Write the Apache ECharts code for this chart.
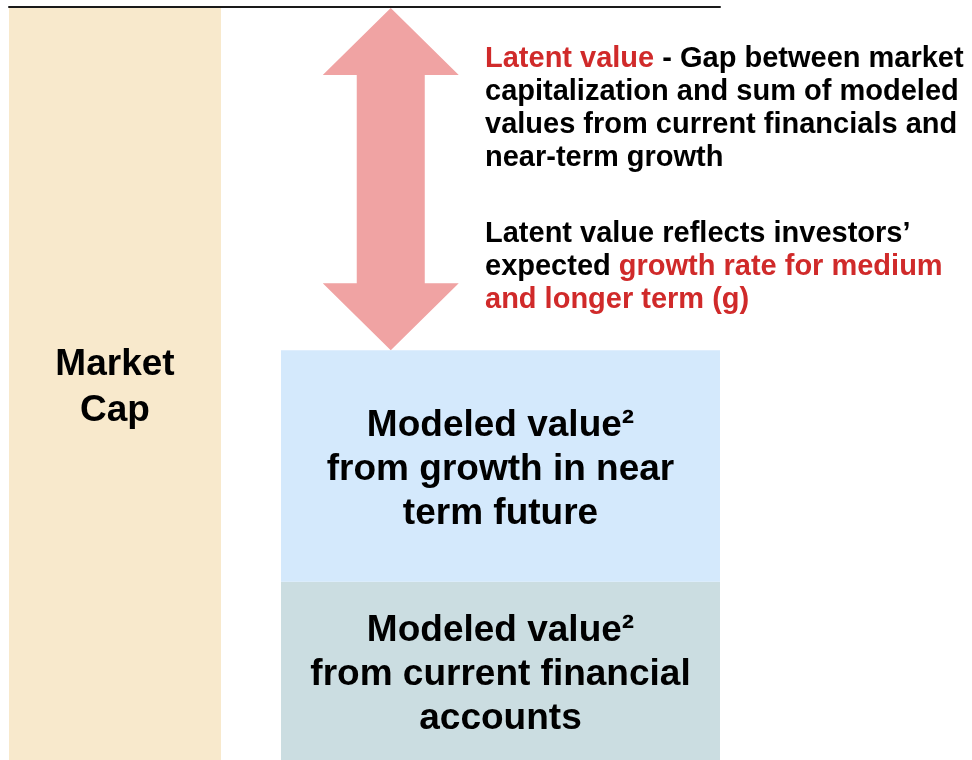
<!DOCTYPE html>
<html>
<head>
<meta charset="utf-8">
<script src="https://cdn.jsdelivr.net/npm/echarts@6/dist/echarts.min.js"></script>
<style>html,body{margin:0;padding:0;background:#fff}#c{width:972px;height:760px}</style>
</head>
<body>
<div id="c"></div>
<script>
// Data
var leftCategories = ['Market Cap'];
var rightCategories = ['Modeled'];
var marketCap = [100];
var currentFinancials = [23.7];
var nearTermGrowth = [30.8];
var leftLabel = 'Market\nCap';
var nearTermLabel = 'Modeled value²\nfrom growth in near\nterm future';
var currentLabel = 'Modeled value²\nfrom current financial\naccounts';

var modeledTop = currentFinancials[0] + nearTermGrowth[0];
var latentData = [[0, modeledTop, marketCap[0]]];

var chart = echarts.init(document.getElementById('c'));
var font = '"Liberation Sans", Arial, sans-serif';

function arrowItem(params, api) {
  var p1 = api.coord([api.value(0), api.value(1)]);
  var p2 = api.coord([api.value(0), api.value(2)]);
  var band = api.size([1, 0])[0];
  var cx = p1[0] - band / 4;
  var hh = 68, sh = 34, hl = 67;
  var yb = p1[1], yt = p2[1];
  return {
    type: 'polygon',
    shape: { points: [
      [cx, yt], [cx + hh, yt + hl], [cx + sh, yt + hl], [cx + sh, yb - hl], [cx + hh, yb - hl],
      [cx, yb], [cx - hh, yb - hl], [cx - sh, yb - hl], [cx - sh, yt + hl], [cx - hh, yt + hl]
    ] },
    style: { fill: '#F0A3A3' }
  };
}

var boxLabel = {
  show: true, position: 'inside', offset: [0, 4], color: '#000', fontFamily: font,
  fontWeight: 'bold', fontSize: 37, lineHeight: 44
};
var richStyles = {
  r: { color: '#D02A2A', fontFamily: font, fontWeight: 'bold', fontSize: 29, lineHeight: 33 },
  b: { color: '#000', fontFamily: font, fontWeight: 'bold', fontSize: 29, lineHeight: 33 }
};

chart.setOption({
  animation: false,
  title: [
    {
      left: 485, top: 42, padding: 0,
      text: '{r|Latent value}{b| - Gap between market}\n{b|capitalization and sum of modeled}\n{b|values from current financials and}\n{b|near-term growth}',
      textStyle: { rich: richStyles }
    },
    {
      left: 485, top: 217, padding: 0,
      text: '{b|Latent value reflects investors’}\n{b|expected }{r|growth rate for medium}\n{r|and longer term (g)}',
      textStyle: { rich: richStyles }
    }
  ],
  grid: [
    { left: 9, top: 8, width: 212, bottom: 0 },
    { left: 281, top: 8, width: 439, bottom: 0 },
    { left: 9, top: 7, width: 711, bottom: 0 }
  ],
  xAxis: [
    { gridIndex: 0, type: 'category', data: leftCategories, show: false },
    { gridIndex: 1, type: 'category', data: rightCategories, show: false },
    { gridIndex: 2, type: 'value', min: 0, max: 1, position: 'top',
      axisLine: { show: true, onZero: false, lineStyle: { color: '#1a1a1a', width: 2 } },
      axisTick: { show: false }, axisLabel: { show: false }, splitLine: { show: false } }
  ],
  yAxis: [
    { gridIndex: 0, type: 'value', min: 0, max: 100, show: false },
    { gridIndex: 1, type: 'value', min: 0, max: 100, show: false },
    { gridIndex: 2, type: 'value', min: 0, max: 1, show: false }
  ],
  series: [
    {
      type: 'bar', xAxisIndex: 0, yAxisIndex: 0, data: marketCap, barWidth: '100%',
      itemStyle: { color: '#F8E9CC' },
      label: Object.assign({}, boxLabel, { lineHeight: 46, formatter: leftLabel }),
      silent: true
    },
    {
      type: 'bar', xAxisIndex: 1, yAxisIndex: 1, stack: 'm', data: currentFinancials, barWidth: '100%',
      itemStyle: { color: '#CBDDE1' },
      label: Object.assign({}, boxLabel, { formatter: currentLabel }),
      silent: true
    },
    {
      type: 'bar', xAxisIndex: 1, yAxisIndex: 1, stack: 'm', data: nearTermGrowth, barWidth: '100%',
      itemStyle: { color: '#D4E9FC' },
      label: Object.assign({}, boxLabel, { formatter: nearTermLabel }),
      silent: true
    },
    {
      type: 'custom', xAxisIndex: 1, yAxisIndex: 1, data: latentData,
      renderItem: arrowItem, silent: true
    }
  ]
});
</script>
</body>
</html>
